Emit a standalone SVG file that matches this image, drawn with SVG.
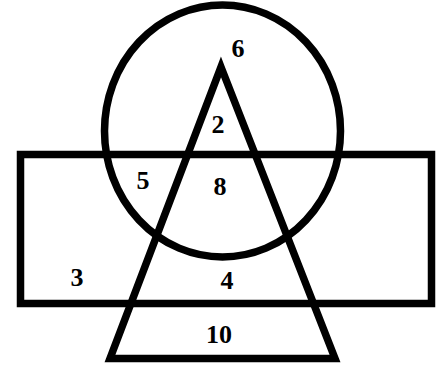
<svg xmlns="http://www.w3.org/2000/svg" width="443" height="369" viewBox="0 0 443 369">
<style>
.s{fill:none;stroke:#000;stroke-width:7.5;stroke-linejoin:miter}
.t{font-family:"Liberation Serif","Times New Roman",serif;font-weight:bold;font-size:26px;fill:#000;text-anchor:middle}
</style>
<rect width="443" height="369" fill="#fff"/>
<g id="rectangle"><rect class="s" x="20.5" y="154.5" width="411" height="149"/></g>
<g id="circle"><ellipse class="s" cx="222.5" cy="131" rx="118" ry="126"/></g>
<g id="triangle"><polygon class="s" points="221,67 335,358.5 110,358.5"/></g>
<g id="connectors"></g>
<g id="labels">
<text class="t" x="238" y="57">6</text>
<text class="t" x="218" y="133">2</text>
<text class="t" x="143" y="189">5</text>
<text class="t" x="220" y="195">8</text>
<text class="t" x="77" y="286">3</text>
<text class="t" x="227" y="289">4</text>
<text class="t" x="219" y="343">10</text>
</g>
</svg>
